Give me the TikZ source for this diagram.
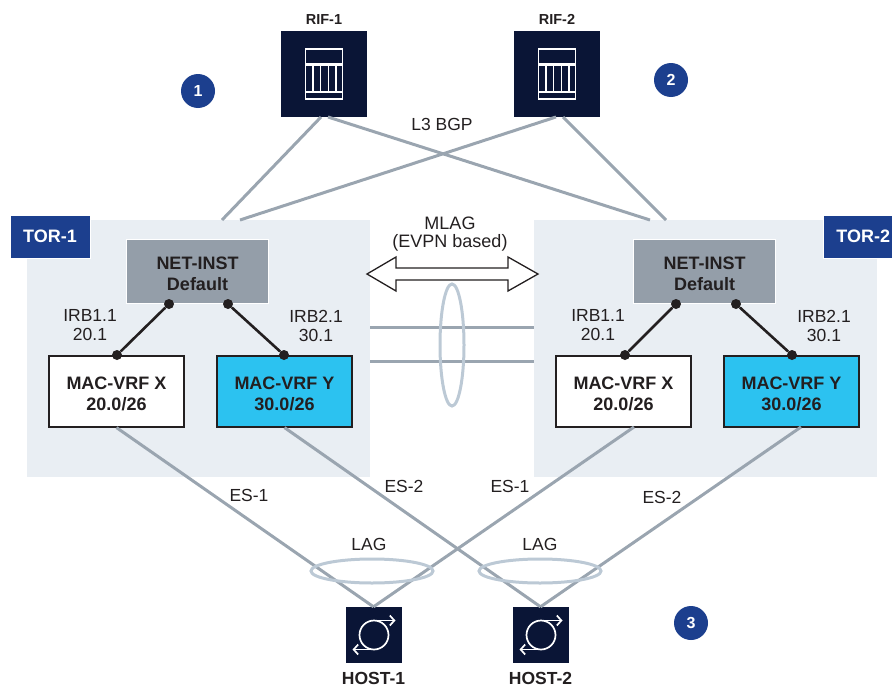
\documentclass[tikz,border=0pt]{standalone}
\usepackage{fontspec}
\setmainfont{Liberation Sans}
\usetikzlibrary{arrows.meta}
\definecolor{navy}{HTML}{0A1536}
\definecolor{tourblue}{HTML}{1C3F8E}
\definecolor{panel}{HTML}{E9EEF3}
\definecolor{wire}{HTML}{9AA5B0}
\definecolor{ring}{HTML}{BCC9D5}
\definecolor{netgray}{HTML}{949EA9}
\definecolor{vrfblue}{HTML}{2CC2F0}
\definecolor{ink}{HTML}{231F20}
\newcommand{\lift}{\rule{0pt}{17pt}}

\begin{document}
\begin{tikzpicture}[x=1pt,y=-1pt,
  wire/.style={draw=wire,line width=3pt},
  ring/.style={draw=ring,line width=3pt},
  vlan/.style={draw=ink,line width=2.6pt},
  tor/.style={fill=panel,minimum width=343pt,minimum height=257pt,inner sep=0pt},
  torname/.style={fill=tourblue,draw=white,line width=0.5pt,text=white,font=\fontsize{18}{20}\selectfont\bfseries,minimum width=80pt,minimum height=43pt,inner sep=0pt},
  netinst/.style={fill=netgray,draw=white,line width=1.5pt,text=ink,font=\fontsize{18}{21}\selectfont\bfseries,align=center,minimum width=142pt,minimum height=64pt,inner sep=0pt},
  vrf/.style={draw=ink,line width=1.2pt,text=ink,font=\fontsize{18}{21}\selectfont\bfseries,align=center,minimum width=135pt,minimum height=71pt,inner sep=0pt},
  port/.style={circle,fill=ink,minimum size=10pt,inner sep=0pt},
  lbl/.style={text=ink,font=\fontsize{17.5}{19}\selectfont,align=center,inner sep=0pt},
  badge/.style={circle,fill=tourblue,text=white,font=\fontsize{16}{18}\selectfont\bfseries,minimum size=34pt,inner sep=0pt},
  rifbox/.style={fill=navy,minimum size=86pt,inner sep=0pt},
  hostbox/.style={fill=navy,minimum size=56pt,inner sep=0pt},
  devname/.style={text=ink,font=\fontsize{17.5}{19}\selectfont\bfseries,inner sep=0pt},
  rifimg/.pic={
    \draw[white,line width=1.8pt] (-18.5,-25) rectangle (18.5,25);
    \draw[white,line width=3pt] (-18.5,-10) -- (18.5,-10);
    \draw[white,line width=1.8pt] (-18.5,18) -- (18.5,18);
    \draw[white,line width=1.6pt] (-11.3,-9) -- (-11.3,18) (-3.5,-9) -- (-3.5,18) (4.3,-9) -- (4.3,18) (12,-9) -- (12,18);
  },
  hostimg/.pic={
    \draw[white,line width=1.7pt] (0.5,0) circle (14.5);
    \draw[white,line width=1.7pt,-{Straight Barb[length=4.5pt,width=10pt]}] (0.5,-14.5) -- (22,-14.5);
    \draw[white,line width=1.7pt,-{Straight Barb[length=4.5pt,width=10pt]}] (0.5,14.5) -- (-21,14.5);
  }]
  \useasboundingbox (0,0) rectangle (892,688);

  %panels
  \node[tor] (tor1) at (198.5,348.5) {};
  \node[tor] (tor2) at (705.5,348.5) {};
  \node[torname] (tor1name) at (50,236.5) {TOR-1};
  \node[torname,minimum width=69pt,text width=65pt,align=right,inner xsep=2pt] (tor2name) at (857.5,236.5) {TOR-2};

  %spines
  \node[rifbox] (rif1) at (324,74) {};
  \node[rifbox] (rif2) at (557,74) {};
  \pic at (rif1) {rifimg};
  \pic at (rif2) {rifimg};
  \node[at=(rif1.north),above=6pt,devname,font=\fontsize{14.5}{16}\selectfont\bfseries]{RIF-1};
  \node[at=(rif2.north),above=6pt,devname,font=\fontsize{14.5}{16}\selectfont\bfseries]{RIF-2};

  %left
  \node[netinst] (net1) at (197.5,271.5) {\lift NET-INST\\Default};
  \node[vrf,fill=white] (vrf1x) at (116.5,391.5) {\lift MAC-VRF X\\20.0/26};
  \node[vrf,fill=vrfblue] (vrf1y) at (284.5,391.5) {\lift MAC-VRF Y\\30.0/26};
  \node[port] (p1a) at (169,304) {};
  \node[port] (p1b) at (228,304) {};
  \node[port] (p1x) at (117,355) {};
  \node[port] (p1y) at (284,355) {};
  \draw[vlan] (p1a) -- (p1x);
  \draw[vlan] (p1b) -- (p1y);
  \node[lbl] at (90,325.5) {IRB1.1\\20.1};
  \node[lbl] at (316,325.5) {IRB2.1\\30.1};

  %right
  \node[netinst] (net2) at (704.5,271.5) {\lift NET-INST\\Default};
  \node[vrf,fill=white] (vrf2x) at (623.5,391.5) {\lift MAC-VRF X\\20.0/26};
  \node[vrf,fill=vrfblue] (vrf2y) at (791.5,391.5) {\lift MAC-VRF Y\\30.0/26};
  \node[port] (p2a) at (676,304) {};
  \node[port] (p2b) at (736,304) {};
  \node[port] (p2x) at (625,355) {};
  \node[port] (p2y) at (792,355) {};
  \draw[vlan] (p2a) -- (p2x);
  \draw[vlan] (p2b) -- (p2y);
  \node[lbl] at (598,325.5) {IRB1.1\\20.1};
  \node[lbl] at (824,325.5) {IRB2.1\\30.1};

  %hosts
  \node[hostbox] (host1) at (373.5,635) {};
  \node[hostbox] (host2) at (540.5,635) {};
  \pic at (host1) {hostimg};
  \pic at (host2) {hostimg};
  \node[at=(host1.south),below=9pt,devname]{HOST-1};
  \node[at=(host2.south),below=9pt,devname]{HOST-2};

  %upper links
  \coordinate (r1a) at (321,117);
  \coordinate (r1b) at (328,117);
  \coordinate (r2a) at (556,117);
  \coordinate (r2b) at (563,117);
  \coordinate (t1a) at (222,220);
  \coordinate (t1b) at (240,220);
  \coordinate (t2a) at (650,220);
  \coordinate (t2b) at (666,220);
  \draw[wire] (r1a) -- (t1a);
  \draw[wire] (r2a) -- (t1b);
  \draw[wire] (r1b) -- (t2a);
  \draw[wire] (r2b) -- (t2b);
  \node[lbl] at (442,124) {L3 BGP};

  %middle links
  \coordinate (m1a) at (370,327);
  \coordinate (m1b) at (370,361);
  \coordinate (m2a) at (534,327);
  \coordinate (m2b) at (534,361);
  \draw[wire] (m1a) -- (m2a);
  \draw[wire] (m1b) -- (m2b);
  \draw[ring] (452,345) ellipse (12 and 61);
  \draw[ink,fill=white,line width=1.3pt] (367,274) -- (396,257) -- (396,268) -- (508,268) -- (508,257) -- (538,274) -- (508,291) -- (508,280) -- (396,280) -- (396,291) -- cycle;
  \node[lbl,font=\fontsize{18}{18}\selectfont] at (450,234.5) {MLAG\\(EVPN based)};

  %lower links
  \coordinate (v2x) at (634,427);
  \coordinate (v2y) at (801,427);
  \draw[wire] (vrf1x.south) -- (host1.north);
  \draw[wire] (vrf1y.south) -- (host2.north);
  \draw[wire] (v2x) -- (host1.north);
  \draw[wire] (v2y) -- (host2.north);
  \draw[ring] (372,571) ellipse (61 and 12);
  \draw[ring] (540,571) ellipse (61 and 12);
  \node[lbl] at (249,495) {ES-1};
  \node[lbl] at (404,486) {ES-2};
  \node[lbl] at (510,486) {ES-1};
  \node[lbl] at (662,497) {ES-2};
  \node[lbl] at (369,544) {LAG};
  \node[lbl] at (540,544) {LAG};

  %numbers
  \node[badge] (b1) at (198,91) {1};
  \node[badge] (b2) at (671,80) {2};
  \node[badge] (b3) at (691,623) {3};
\end{tikzpicture}
\end{document}
